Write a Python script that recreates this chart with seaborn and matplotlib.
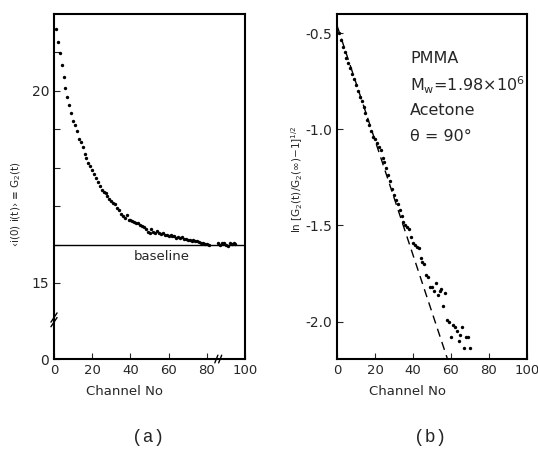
import matplotlib
matplotlib.use("Agg")
import matplotlib.pyplot as plt
import numpy as np
import pandas as pd
import seaborn as sns

# --- panel (a): correlation function vs channel ---
channel_a = list(range(1, 82)) + list(range(86, 96))
g2_a = [
    21.62, 21.28, 20.98, 20.66, 20.36, 20.08, 19.84, 19.62, 19.42, 19.22,
    19.12, 18.96, 18.74, 18.66, 18.54, 18.36, 18.24, 18.13, 18.05, 17.94,
    17.84, 17.72, 17.63, 17.52, 17.42, 17.37, 17.33, 17.26, 17.19, 17.14,
    17.09, 17.06, 16.96, 16.89, 16.80, 16.74, 16.70, 16.77, 16.64, 16.63,
    16.61, 16.58, 16.57, 16.55, 16.50, 16.47, 16.45, 16.40, 16.32, 16.30,
    16.40, 16.33, 16.30, 16.34, 16.29, 16.27, 16.30, 16.24, 16.26, 16.23,
    16.25, 16.21, 16.22, 16.18, 16.20, 16.17, 16.19, 16.14, 16.15, 16.12,
    16.13, 16.10, 16.12, 16.08, 16.09, 16.06, 16.04, 16.05, 16.02, 16.01,
    16.00,
    16.03, 15.98, 16.04, 16.05, 16.00, 15.97, 16.03, 16.01, 16.04, 16.02,
]
baseline_a = 16.0
zero_pos_a = 13.02      # where the broken axis puts the "0" label
break_pos_a = 14.1
yticks_a = [zero_pos_a, 15, 16, 17, 18, 19, 20, 21]
ylabels_a = ["0", "15", "", "", "", "", "20", ""]
xbreak_a = 86

# --- panel (b): ln of normalised correlation vs channel ---
channel_b = list(range(1, 71))
lng_b = [
    -0.50, -0.535, -0.57, -0.60, -0.63, -0.655, -0.68, -0.71, -0.74, -0.77,
    -0.80, -0.83, -0.855, -0.885, -0.915, -0.95, -0.98, -1.01, -1.04, -1.05,
    -1.07, -1.09, -1.11, -1.15, -1.17, -1.20, -1.24, -1.27, -1.31, -1.34,
    -1.37, -1.39, -1.42, -1.45, -1.48, -1.50, -1.51, -1.52, -1.56, -1.59,
    -1.60, -1.61, -1.62, -1.67, -1.69, -1.70, -1.76, -1.77, -1.82, -1.82,
    -1.84, -1.80, -1.86, -1.84, -1.83, -1.92, -1.85, -1.99, -2.00, -2.08,
    -2.02, -2.03, -2.05, -2.10, -2.07, -2.03, -2.14, -2.08, -2.08, -2.14,
]
fit_x_b = [0, 58]
fit_y_b = [-0.46, -2.19]
yticks_b = [-0.5, -1.0, -1.5, -2.0]

df_a = pd.DataFrame({"channel": channel_a, "g2": g2_a})
df_b = pd.DataFrame({"channel": channel_b, "lng": lng_b})

sns.set_style("ticks")
plt.rcParams.update({
    "font.family": ["DejaVu Sans"],
    "xtick.direction": "in",
    "ytick.direction": "in",
    "xtick.major.size": 4,
    "ytick.major.size": 4,
    "xtick.labelsize": 9.5,
    "ytick.labelsize": 10,
    "axes.linewidth": 1.5,
})

fig = plt.figure(figsize=(5.38, 4.57), dpi=100)
ax_a = fig.add_axes([0.1004, 0.2144, 0.355, 0.755])
ax_b = fig.add_axes([0.6264, 0.2144, 0.353, 0.755])

for ax in (ax_a, ax_b):
    for s in ax.spines.values():
        s.set_visible(True)
        s.set_color("black")

# panel (a)
sns.scatterplot(data=df_a, x="channel", y="g2", ax=ax_a, s=6, color="black",
                linewidth=0, legend=False)
ax_a.axhline(baseline_a, color="black", lw=1.0)
ax_a.text(42, baseline_a - 0.15, "baseline", ha="left", va="top", fontsize=9.5)
ax_a.set_xlim(0, 100)
ax_a.set_ylim(zero_pos_a, 22.0)
ax_a.set_xticks([0, 20, 40, 60, 80, 100])
ax_a.set_yticks(yticks_a)
ax_a.set_yticklabels(ylabels_a)
ax_a.set_xlabel("Channel No", fontsize=9.5)
ax_a.xaxis.set_label_coords(0.37, -0.075)
ax_a.set_ylabel("‹i(0) i(t)› ≡ G$_2$(t)", fontsize=7.5)
ax_a.yaxis.set_label_coords(-0.16, 0.45)

# axis break marks
dx, dy = 1.6, 0.12
ax_a.plot([-dx, dx], [break_pos_a - dy, break_pos_a + dy], color="black",
          lw=1.0, clip_on=False)
ax_a.plot([-dx, dx], [break_pos_a - dy - 0.12, break_pos_a + dy - 0.12],
          color="black", lw=1.0, clip_on=False)
for off in (-1.0, 1.0):
    ax_a.plot([xbreak_a + off - 0.8, xbreak_a + off + 0.8],
              [zero_pos_a - 0.1, zero_pos_a + 0.1], color="black", lw=1.0,
              clip_on=False)

# panel (b)
sns.scatterplot(data=df_b, x="channel", y="lng", ax=ax_b, s=6, color="black",
                linewidth=0, legend=False)
sns.lineplot(x=fit_x_b, y=fit_y_b, ax=ax_b, color="black", lw=1.0,
             linestyle=(0, (6, 4)))
ax_b.set_xlim(0, 100)
ax_b.set_ylim(-2.195, -0.40)
ax_b.set_xticks([0, 20, 40, 60, 80, 100])
ax_b.set_yticks(yticks_b)
ax_b.set_yticklabels(["-0.5", "-1.0", "-1.5", "-2.0"])
ax_b.set_xlabel("Channel No", fontsize=9.5)
ax_b.xaxis.set_label_coords(0.37, -0.075)
ax_b.set_ylabel("ln [G$_2$(t)/G$_2$(∞)−1]$^{1/2}$", fontsize=7.5)
ax_b.yaxis.set_label_coords(-0.17, 0.52)

info = ["PMMA", "M$_{\\rm w}$=1.98×10$^{6}$", "Acetone", "θ = 90°"]
info_y = [0.870, 0.794, 0.719, 0.646]
for txt, yy in zip(info, info_y):
    ax_b.text(0.384, yy, txt, transform=ax_b.transAxes, fontsize=11.5,
              ha="left", va="center")

fig.text(148 / 538, 1 - 437 / 457, "(a)", family="Liberation Mono",
         fontsize=13, ha="center", va="center")
fig.text(430 / 538, 1 - 437 / 457, "(b)", family="Liberation Mono",
         fontsize=13, ha="center", va="center")

fig.savefig("out.png", dpi=100)
